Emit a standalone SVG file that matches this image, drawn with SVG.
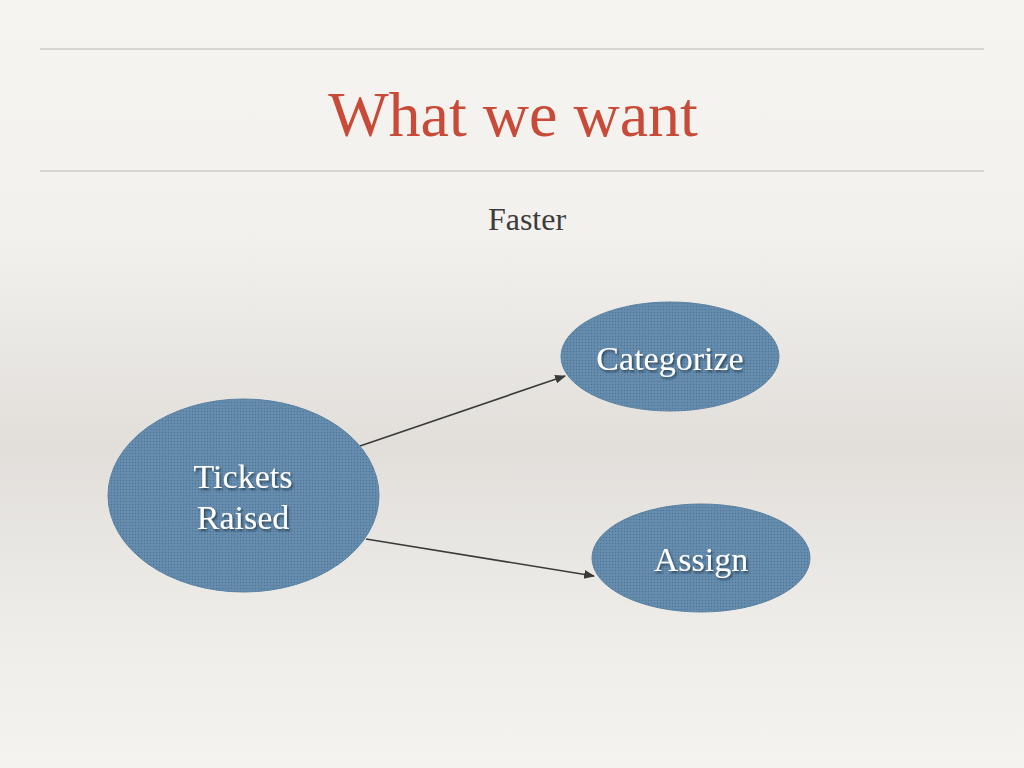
<svg xmlns="http://www.w3.org/2000/svg" width="1024" height="768" viewBox="0 0 1024 768">
  <defs>
    <linearGradient id="bg" x1="0" y1="0" x2="0" y2="1">
      <stop offset="0" stop-color="#f6f4f0"/>
      <stop offset="0.3" stop-color="#f3f1ed"/>
      <stop offset="0.58" stop-color="#e2dfdb"/>
      <stop offset="0.85" stop-color="#f0eeea"/>
      <stop offset="1" stop-color="#f5f3ef"/>
    </linearGradient>
    <pattern id="weave" width="3" height="3" patternUnits="userSpaceOnUse">
      <rect width="3" height="3" fill="#6389ab"/>
      <rect width="1" height="1" fill="#4c7596"/>
      <rect x="1.5" y="1.5" width="1" height="1" fill="#7498b6"/>
    </pattern>
    <filter id="shadow" x="-10%" y="-20%" width="130%" height="150%">
      <feDropShadow dx="1.5" dy="2" stdDeviation="1" flood-color="#1d2d3a" flood-opacity="0.75"/>
    </filter>
    <marker id="arrow" viewBox="0 0 10 10" refX="9" refY="5" markerWidth="11" markerHeight="11" markerUnits="userSpaceOnUse" orient="auto">
      <path d="M0,1 L10,5 L0,9 Z" fill="#3a3a3a"/>
    </marker>
  </defs>
  <style>
    .rule { stroke: #d8d5d0; stroke-width: 2; }
    .node { fill: url(#weave); stroke: #5a82a2; stroke-width: 1; }
    .label { font-family: "Liberation Serif", serif; font-size: 34px; fill: #ffffff; text-anchor: middle; filter: url(#shadow); }
    .edge { stroke: #3a3a3a; stroke-width: 1.6; fill: none; marker-end: url(#arrow); }
  </style>

  <rect width="1024" height="768" fill="url(#bg)"/>

  <!-- header -->
  <line class="rule" x1="40" y1="49" x2="984" y2="49"/>
  <line class="rule" x1="40" y1="171" x2="984" y2="171"/>
  <text x="513" y="136" font-family="Liberation Serif, serif" font-size="64" fill="#c84a38" text-anchor="middle">What we want</text>
  <text x="527" y="230" font-family="Liberation Serif, serif" font-size="32" fill="#3c3c3c" text-anchor="middle">Faster</text>

  <!-- connectors -->
  <g id="connectors">
    <line class="edge" x1="360" y1="446" x2="565" y2="376"/>
    <line class="edge" x1="366" y1="539" x2="594" y2="576"/>
  </g>

  <g id="tickets-raised">
    <ellipse class="node" cx="243.5" cy="495.5" rx="135.5" ry="96.5"/>
    <text class="label" x="243" y="488">Tickets</text>
    <text class="label" x="243" y="529">Raised</text>
  </g>

  <g id="categorize">
    <ellipse class="node" cx="670" cy="356.5" rx="109" ry="54.5"/>
    <text class="label" x="670" y="370">Categorize</text>
  </g>

  <g id="assign">
    <ellipse class="node" cx="701" cy="558" rx="109" ry="54"/>
    <text class="label" x="701" y="571">Assign</text>
  </g>
</svg>
